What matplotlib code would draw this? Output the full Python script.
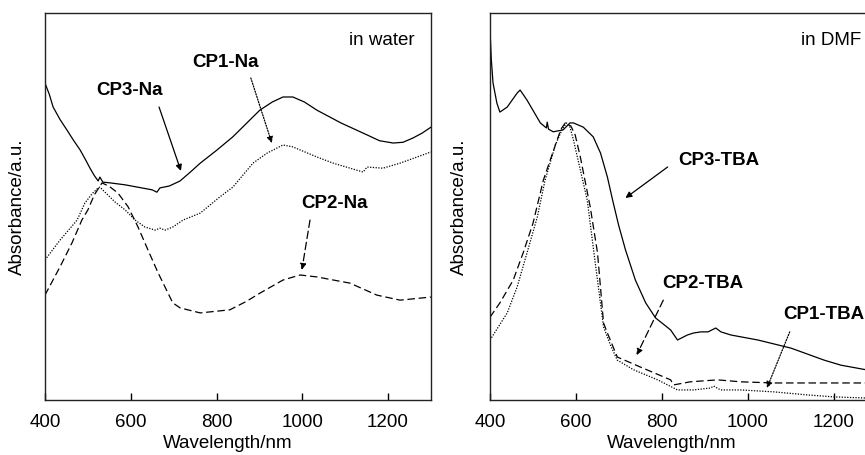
"""UV-vis-NIR absorbance spectra of CP1-3 in water (Na salts) and in DMF (TBA salts)."""
import matplotlib
matplotlib.use("Agg")
import matplotlib.pyplot as plt

plt.rcParams["font.family"] = ["Liberation Sans", "DejaVu Sans"]
plt.rcParams["font.size"] = 13.5

# ---- left panel: in water ----
cp3_na_nm = [400, 410, 419, 435, 451, 466, 482, 494, 505, 515, 524, 528, 535, 552,
             587, 650, 661, 668, 690, 715, 740, 762, 800, 838, 870, 901, 930, 955,
             978, 1005, 1034, 1090, 1151, 1180, 1212, 1235, 1258, 1280, 1300]
cp3_na_abs = [0.819, 0.790, 0.757, 0.725, 0.698, 0.672, 0.646, 0.622, 0.599, 0.580,
              0.566, 0.576, 0.563, 0.561, 0.556, 0.543, 0.537, 0.548, 0.553, 0.566,
              0.590, 0.612, 0.645, 0.680, 0.715, 0.749, 0.770, 0.783, 0.783, 0.770,
              0.749, 0.716, 0.685, 0.670, 0.664, 0.666, 0.677, 0.690, 0.705]

cp1_na_nm = [400, 435, 475, 493, 510, 522, 528, 540, 563, 587, 610, 633, 657, 668,
             680, 698, 722, 762, 808, 838, 885, 918, 955, 978, 1034, 1072, 1142,
             1151, 1188, 1228, 1300]
cp1_na_abs = [0.362, 0.413, 0.465, 0.509, 0.533, 0.546, 0.550, 0.537, 0.512, 0.491,
              0.465, 0.447, 0.439, 0.444, 0.439, 0.447, 0.465, 0.483, 0.525, 0.550,
              0.612, 0.638, 0.659, 0.654, 0.628, 0.612, 0.589, 0.602, 0.599, 0.612,
              0.641]

cp2_na_nm = [400, 435, 463, 486, 500, 515, 533, 550, 570, 594, 617, 640, 664, 698,
             715, 762, 831, 870, 901, 955, 995, 1034, 1111, 1174, 1228, 1300]
cp2_na_abs = [0.271, 0.344, 0.406, 0.465, 0.491, 0.530, 0.561, 0.552, 0.535, 0.499,
              0.447, 0.388, 0.328, 0.251, 0.238, 0.225, 0.233, 0.255, 0.276, 0.310,
              0.323, 0.318, 0.302, 0.271, 0.258, 0.266]

# ---- right panel: in DMF ----
cp3_tba_nm = [400, 403, 407, 416, 423, 440, 463, 470, 486, 517, 531, 533, 536, 547,
              570, 586, 594, 617, 640, 657, 673, 685, 699, 715, 738, 762, 785, 820,
              836, 859, 873, 890, 907, 925, 937, 960, 1023, 1100, 1177, 1216, 1275,
              1300]
cp3_tba_abs = [0.956, 0.880, 0.819, 0.767, 0.744, 0.757, 0.793, 0.801, 0.775, 0.716,
               0.703, 0.718, 0.700, 0.693, 0.698, 0.716, 0.716, 0.705, 0.680, 0.638,
               0.576, 0.517, 0.452, 0.388, 0.310, 0.251, 0.212, 0.181, 0.155, 0.168,
               0.173, 0.176, 0.176, 0.186, 0.176, 0.168, 0.155, 0.134, 0.103, 0.090,
               0.078, 0.075]

cp2_tba_nm = [400, 423, 454, 477, 500, 524, 552, 565, 575, 588, 598, 610, 633, 650,
              664, 673, 696, 750, 820, 827, 866, 929, 983, 1060, 1139, 1275, 1300]
cp2_tba_abs = [0.214, 0.251, 0.310, 0.380, 0.457, 0.568, 0.659, 0.700, 0.716, 0.708,
               0.685, 0.628, 0.499, 0.380, 0.199, 0.173, 0.111, 0.085, 0.052, 0.039,
               0.047, 0.052, 0.047, 0.044, 0.044, 0.044, 0.044]

cp1_tba_nm = [400, 440, 463, 486, 510, 528, 552, 568, 578, 586, 594, 626, 640, 664,
              680, 696, 734, 790, 836, 873, 913, 920, 936, 983, 1060, 1139, 1200,
              1275, 1300]
cp1_tba_abs = [0.155, 0.225, 0.292, 0.380, 0.473, 0.568, 0.659, 0.700, 0.716, 0.705,
               0.672, 0.517, 0.395, 0.189, 0.142, 0.103, 0.078, 0.052, 0.026, 0.026,
               0.031, 0.036, 0.026, 0.026, 0.021, 0.013, 0.008, 0.005, 0.004]

xticks = [400, 600, 800, 1000, 1200]

SOLID = "-"
DASHED = (0, (6, 3))
DOTTED = (0, (1, 1.2))


def arrow(ax, start, tip, ls):
    ax.annotate("", xy=tip, xytext=start,
                arrowprops=dict(arrowstyle="-|>", color="black", lw=0.9, linestyle=ls,
                                mutation_scale=9, shrinkA=0, shrinkB=0))


def style_axes(ax, xlabel_x, ylabel_x):
    ax.set_xlim(400, 1300)
    ax.set_ylim(0, 1)
    ax.set_xticks(xticks)
    ax.set_yticks([])
    ax.tick_params(axis="x", direction="in", length=5, width=1, pad=10, top=False)
    for sp in ax.spines.values():
        sp.set_linewidth(1.0)
        sp.set_color("#222222")
    ax.set_xlabel("Wavelength/nm")
    ax.set_ylabel("Absorbance/a.u.")
    ax.xaxis.set_label_coords(xlabel_x, -0.09)
    ax.yaxis.set_label_coords(ylabel_x, 0.5)


fig = plt.figure(figsize=(8.65, 4.55), dpi=100)
ax1 = fig.add_axes([0.0520, 0.1209, 0.4462, 0.8505])
ax2 = fig.add_axes([0.5665, 0.1209, 0.4474, 0.8505])

lw = 0.9
ax1.plot(cp3_na_nm, cp3_na_abs, color="black", lw=lw, linestyle=SOLID)
ax1.plot(cp1_na_nm, cp1_na_abs, color="black", lw=lw, linestyle=DOTTED)
ax1.plot(cp2_na_nm, cp2_na_abs, color="black", lw=lw, linestyle=DASHED)
style_axes(ax1, 0.474, -0.05)

ax1.text(0.959, 0.93, "in water", transform=ax1.transAxes, ha="right", va="center")
ax1.text(598, 0.801, "CP3-Na", ha="center", va="center", fontweight="bold")
ax1.text(822, 0.871, "CP1-Na", ha="center", va="center", fontweight="bold")
ax1.text(1076, 0.509, "CP2-Na", ha="center", va="center", fontweight="bold")
arrow(ax1, (666, 0.757), (717, 0.592), SOLID)
arrow(ax1, (880, 0.832), (929, 0.664), DOTTED)
arrow(ax1, (1018, 0.465), (999, 0.336), DASHED)

ax2.plot(cp3_tba_nm, cp3_tba_abs, color="black", lw=lw, linestyle=SOLID)
ax2.plot(cp2_tba_nm, cp2_tba_abs, color="black", lw=lw, linestyle=DASHED)
ax2.plot(cp1_tba_nm, cp1_tba_abs, color="black", lw=lw, linestyle=DOTTED)
style_axes(ax2, 0.470, -0.057)

ax2.text(0.959, 0.93, "in DMF", transform=ax2.transAxes, ha="right", va="center")
ax2.text(932, 0.620, "CP3-TBA", ha="center", va="center", fontweight="bold")
ax2.text(894, 0.302, "CP2-TBA", ha="center", va="center", fontweight="bold")
ax2.text(1083, 0.220, "CP1-TBA", ha="left", va="center", fontweight="bold")
arrow(ax2, (813, 0.602), (715, 0.522), SOLID)
arrow(ax2, (803, 0.258), (741, 0.116), DASHED)
arrow(ax2, (1097, 0.176), (1044, 0.031), DOTTED)

fig.savefig("out.png", dpi=100)
